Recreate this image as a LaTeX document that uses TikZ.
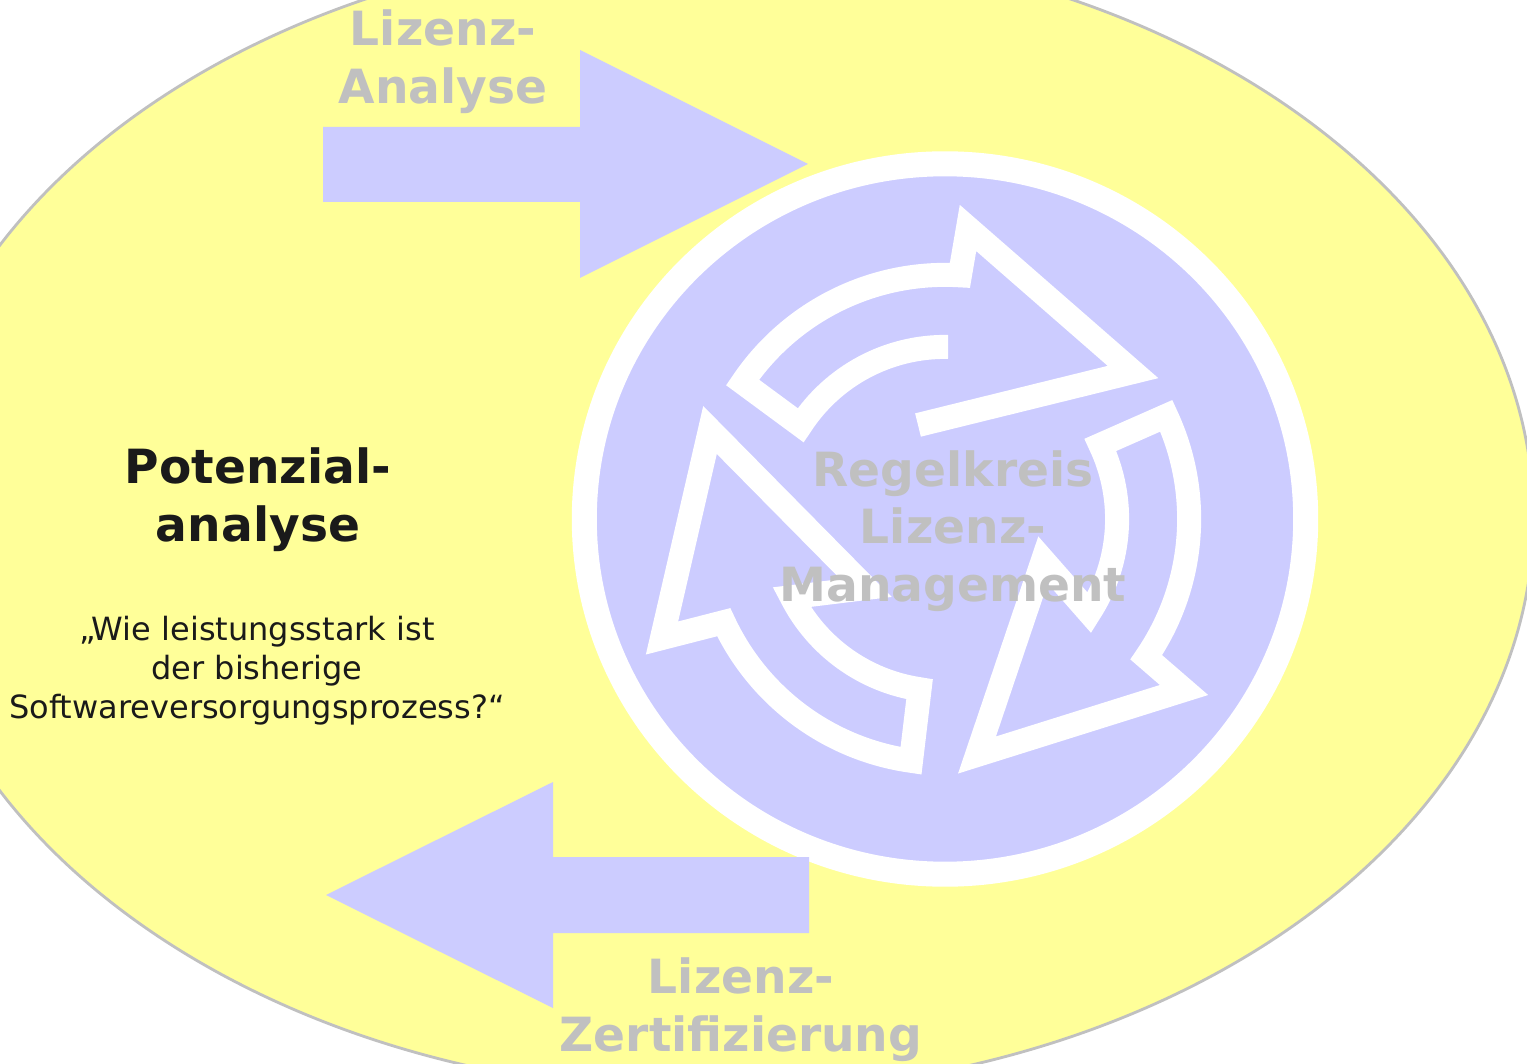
\documentclass[tikz,border=0pt]{standalone}
\usepackage{fontspec}
\setmainfont{DejaVu Sans}
\usepackage{tikz}
\usetikzlibrary{calc}
\definecolor{ovalyellow}{HTML}{FFFF99}
\definecolor{ovalline}{HTML}{C0C0C0}
\definecolor{lavender}{HTML}{CCCCFF}
\definecolor{labelgray}{HTML}{C0C0C0}
\definecolor{textdark}{HTML}{1A1A1A}

\tikzset{
  cyclearrow/.style={draw=white, line width=0.24cm},
  blockarrow/.style={fill=lavender},
  bigword/.style={font=\fontsize{13.4}{16.4}\selectfont\bfseries, align=center, inner sep=0pt},
  graylabel/.style={bigword, labelgray},
  darklabel/.style={bigword, textdark},
  question/.style={textdark, font=\fontsize{9.1}{11.1}\selectfont, align=center, inner sep=0pt}
}

\begin{document}
\begin{tikzpicture}[x=0.01cm, y=-0.01cm]
  \useasboundingbox (0,0) rectangle (1527,1064);
  \clip (0,0) rectangle (1527,1064);

  % Yellow oval
  \draw[fill=ovalyellow, draw=ovalline, line width=0.8pt] (718,518) ellipse [x radius=8.15cm, y radius=5.75cm];

  % Control loop disc
  \coordinate (c) at (945,519);
  \draw[fill=lavender, draw=white, line width=0.25cm] (c) ellipse [x radius=3.605cm, y radius=3.55cm];

  % Block arrows in and out
  \fill[blockarrow] (323,127) -- (580,127) -- (580,50) -- (808,164) -- (580,278) -- (580,202) -- (323,202) -- cycle;
  \fill[blockarrow] (809,857) -- (553,857) -- (553,782) -- (326,895) -- (553,1008) -- (553,933) -- (809,933) -- cycle;

  % Three circular arrows
  \coordinate (tipA) at (1133,372);
  \coordinate (outA) at (968,228);
  \coordinate (inA) at (918,425);
  \draw[cyclearrow] (inA) -- (tipA) -- (outA) -- ($(c)+(86.5:2.44cm)$)
    arc[start angle=86.5, end angle=146, radius=2.44cm] -- ($(c)+(147:1.72cm)$)
    arc[start angle=147, end angle=89, radius=1.72cm];

  \coordinate (tipB) at (977,755);
  \coordinate (outB) at (1184,690);
  \coordinate (inB) at (1043,560);
  \draw[cyclearrow] (outB) -- ($(c)+(-34.5:2.44cm)$)
    arc[start angle=-34.5, end angle=25, radius=2.44cm] -- ($(c)+(25.5:1.72cm)$)
    arc[start angle=25.5, end angle=-33, radius=1.72cm] -- (inB) -- (tipB) -- cycle;

  \coordinate (tipC) at (710,430);
  \coordinate (outC) at (662,638);
  \coordinate (inC) at (866,588);
  \draw[cyclearrow] (outC) -- ($(c)+(205:2.44cm)$)
    arc[start angle=205, end angle=262, radius=2.44cm] -- ($(c)+(261.5:1.72cm)$)
    arc[start angle=261.5, end angle=207, radius=1.72cm] -- (inC) -- (tipC) -- cycle;

  % Labels
  \node[graylabel] (lizanalyse) at (443,62) {Lizenz-\\Analyse};
  \node[darklabel] (potanalyse) at (258,500) {Potenzial-\\analyse};
  \node[question] (frage) at (257,671) {„Wie leistungsstark ist\\der bisherige\\Softwareversorgungsprozess?“};
  \node[graylabel] (regelkreis) at (953,531) {Regelkreis\\Lizenz-\\Management};
  \node[graylabel] (lizzert) at (741,1010) {Lizenz-\\Zertifizierung};
\end{tikzpicture}
\end{document}
